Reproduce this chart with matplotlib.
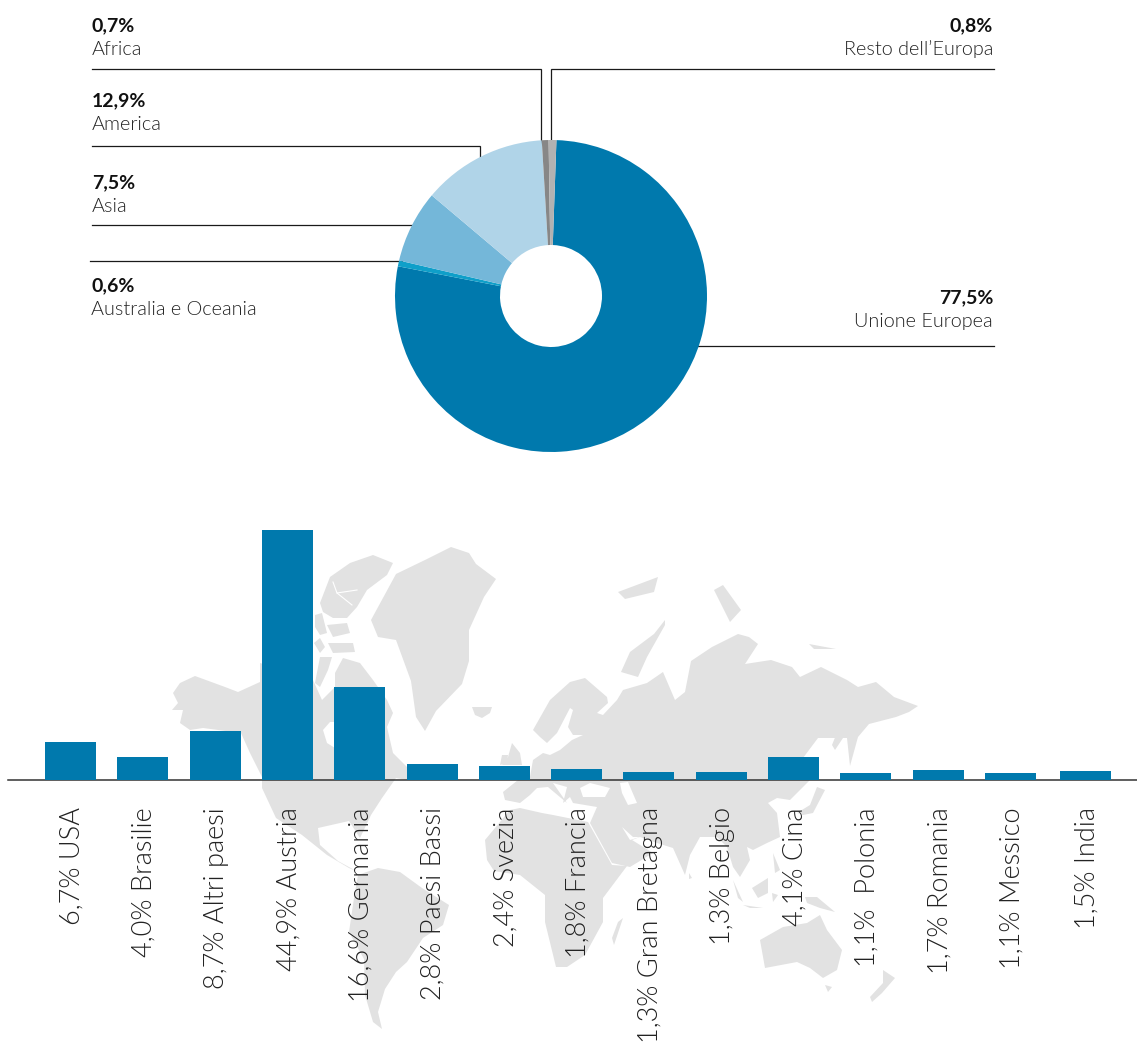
import numpy as np
import matplotlib
matplotlib.use("Agg")
import matplotlib.pyplot as plt
from matplotlib import font_manager as fm
from matplotlib.patches import Polygon
from matplotlib.transforms import ScaledTranslation

W, H = 1137, 1045

# pie data, clockwise from the top
pie_names = ["Unione Europea", "Australia e Oceania", "Asia", "America", "Africa", "Resto dell’Europa"]
pie_values = [77.5, 0.6, 7.5, 12.9, 0.7, 0.8]
pie_labels = ["77,5%", "0,6%", "7,5%", "12,9%", "0,7%", "0,8%"]
pie_colors = ["#0079AD", "#0F9FC9", "#74B7D9", "#B0D4E8", "#878787", "#B2B2B2"]

# bar data
countries = ["USA", "Brasilie", "Altri paesi", "Austria", "Germania", "Paesi Bassi", "Svezia", "Francia",
             "Gran Bretagna", "Belgio", "Cina", " Polonia", "Romania", "Messico", "India"]
shares = [6.7, 4.0, 8.7, 44.9, 16.6, 2.8, 2.4, 1.8, 1.3, 1.3, 4.1, 1.1, 1.7, 1.1, 1.5]
bar_labels = [f"{str(s).replace('.', ',')}% {c}" for s, c in zip(shares, countries)]

# Lato Light by file, weight="light" picks the hairline cut
light_files = [f.fname for f in fm.fontManager.ttflist if f.fname.endswith("Lato-Light.ttf")]
plt.rcParams["font.family"] = ["Lato", "DejaVu Sans"]


def light(size):
    if light_files:
        return fm.FontProperties(fname=light_files[0], size=size)
    return fm.FontProperties(family="Lato", size=size)


fig = plt.figure(figsize=(W / 100, H / 100), dpi=100)


def px_axes(left, top, right, bottom, **kw):
    return fig.add_axes([left / W, 1 - bottom / H, (right - left) / W, (bottom - top) / H], **kw)


# background layer in pixels: map and leader lines
bg = px_axes(0, 0, W, H)
bg.set_xlim(0, W)
bg.set_ylim(H, 0)
bg.axis("off")

# hand traced world map, image pixels
land = [
    # north america
    [(173,693),(180,683),(195,676),(225,687),(238,692),(260,682),(260,663),(313,680),(322,700),(335,687),(335,673),(343,658),(360,663),(373,680),(387,700),(393,713),(387,727),(393,753),(407,767),(407,780),(396,778),(382,798),(371,815),(360,838),(349,821),(318,828),(320,845),(338,861),(358,872),(349,868),(327,855),(302,835),(276,818),(262,788),(262,777),(250,753),(241,733),(203,728),(190,730),(180,723),(183,710),(172,710),(178,703)],
    # arctic islands
    [(320,603),(330,577),(350,563),(373,555),(393,563),(387,575),(367,590),(357,607),(347,618),(333,618),(323,612)],
    [(315,615),(322,613),(327,633),(320,635),(315,627)],
    [(328,643),(353,643),(355,652),(333,653)],
    [(320,638),(325,647),(320,653),(314,643)],
    [(327,625),(347,623),(350,633),(333,637)],
    [(320,657),(332,657),(328,670),(320,687),(315,683)],
    # greenland
    [(371,620),(396,574),(425,560),(451,547),(469,553),(476,564),(496,579),(484,597),(469,630),(469,661),(462,684),(436,711),(425,731),(416,717),(411,681),(396,640),(378,637)],
    # south america
    [(358,875),(378,868),(400,872),(422,888),(449,905),(443,925),(423,938),(407,962),(396,972),(385,989),(378,1012),(382,1029),(373,1022),(365,995),(364,959),(349,932),(354,898)],
    # iceland, britain, ireland
    [(472,707),(492,707),(490,713),(482,718),(475,715)],
    [(512,743),(520,753),(522,765),(502,765),(508,757)],
    [(502,755),(508,755),(507,763),(500,765)],
    # eurasia
    [(533,730),(550,700),(570,682),(585,678),(607,697),(608,703),(597,713),(603,715),(617,700),(623,690),(647,683),(663,672),(675,700),(685,692),(691,661),(712,647),(738,634),(749,637),(758,644),(745,664),(771,660),(792,667),(800,677),(821,667),(847,680),(858,687),(876,682),(894,697),(918,706),(909,712),(896,717),(869,724),(858,737),(850,766),(847,738),(818,738),(803,758),(810,780),(790,800),(777,798),(768,803),(777,813),(780,837),(767,843),(753,850),(747,847),(750,860),(740,877),(733,867),(727,847),(717,837),(700,837),(690,855),(685,875),(673,848),(657,843),(640,837),(632,840),(653,853),(630,867),(612,863),(590,823),(597,807),(573,803),(570,797),(563,803),(567,787),(553,783),(567,803),(548,787),(537,788),(530,795),(520,803),(505,800),(503,792),(518,780),(530,777),(533,760),(543,753),(550,755),(560,750),(572,740),(583,735),(573,735),(568,727),(573,710),(570,708),(557,733),(547,743),(540,737)],
    # africa, madagascar
    [(510,810),(520,808),(542,813),(553,815),(588,822),(612,865),(627,866),(603,898),(603,922),(585,955),(567,967),(556,967),(545,922),(545,895),(520,875),(494,871),(487,860),(485,840)],
    [(623,918),(614,945),(612,938),(618,922)],
    # arctic russia
    [(621,672),(630,652),(654,634),(665,620),(665,625),(647,657),(638,677)],
    [(618,592),(658,577),(654,592),(625,599)],
    [(714,590),(723,585),(741,610),(730,622)],
    [(809,644),(836,649),(814,649)],
    # japan, sakhalin and south east asia
    [(817,787),(825,790),(813,813),(803,815),(797,813),(810,805)],
    [(840,725),(845,735),(835,750),(832,745)],
    [(733,880),(743,902),(738,898)],
    [(743,905),(763,908),(750,908)],
    [(752,888),(768,878),(768,893),(758,898)],
    [(772,893),(778,895),(773,902)],
    [(773,853),(780,870),(775,873)],
    [(805,897),(817,897),(835,912),(820,908),(807,903)],
    [(689,873),(692,878),(689,879)],
    # australia, tasmania, new zealand
    [(760,940),(783,927),(807,923),(820,915),(827,930),(842,950),(837,970),(823,978),(810,968),(797,962),(765,968)],
    [(825,985),(832,987),(828,992)],
    [(883,970),(895,978),(882,993),(872,1002),(870,997),(883,983)],
]
water = [
    [(323,730),(330,722),(335,722),(335,748),(327,743)],  # hudson bay
    [(580,788),(590,783),(610,788),(605,797),(583,797)],  # black sea
    [(620,783),(628,782),(637,803),(628,805),(622,793)],  # caspian
    [(622,827),(633,837),(640,837),(630,840)],  # gulf
]
for pts in land:
    bg.add_patch(Polygon(pts, fc="#E2E2E2", ec="none"))
for pts in water:
    bg.add_patch(Polygon(pts, fc="white", ec="none"))
bg.plot([333, 337, 357], [582, 593, 590], color="white", lw=0.8)
bg.plot([337, 352], [593, 605], color="white", lw=0.8)

# bars
slots = np.arange(len(shares), dtype=float)
slots[-1] += 0.04  # India sits a little further out
step = 72.3
ax = px_axes(8, 530, W, 779.5)
ax.patch.set_alpha(0)
ax.bar(slots, shares, width=51 / step, color="#0079AD", zorder=3)
ax.set_xlim((8 - 70.5) / step, (W - 70.5) / step)
ax.set_ylim(0, 44.9)
ax.set_yticks([])
ax.set_xticks(slots)
ax.set_xticklabels(bar_labels, rotation=90, font_properties=light(19.5), color="#222222", va="top", ha="center")
ax.tick_params(axis="x", length=0, pad=20)
nudge = ScaledTranslation(1.5 / 100, 0, fig.dpi_scale_trans)
for lab in ax.get_xticklabels():
    lab.set_transform(lab.get_transform() + nudge)
for side in ["top", "left", "right"]:
    ax.spines[side].set_visible(False)
ax.spines["bottom"].set_color("#333333")
ax.spines["bottom"].set_linewidth(1.1)

# leader lines, drawn before the pie
lines = [
    [(92, 69), (541, 69), (541, 145)],
    [(993.5, 69), (551, 69), (551, 145)],
    [(92, 146), (479.5, 146), (479.5, 160)],
    [(92, 225), (415, 225)],
    [(90, 260.5), (402, 260.5)],
    [(694, 346), (993.5, 346)],
]
for ln in lines:
    xs, ys = zip(*ln)
    bg.plot(xs, ys, color="#1a1a1a", lw=0.9, solid_joinstyle="miter")

# pie
pax = px_axes(395, 140, 707, 452)
pax.patch.set_alpha(0)
pax.pie(pie_values, colors=pie_colors, startangle=88, counterclock=False, radius=1,
        wedgeprops=dict(width=1 - 51 / 156, linewidth=0))
pax.set_xlim(-1, 1)
pax.set_ylim(-1, 1)

# pie captions: index into the lists, x, baseline of value, baseline of name, side
captions = [(4, 92, 31, 55, "left"), (5, 993, 31, 55, "right"), (3, 92, 106, 130, "left"),
            (2, 92, 188, 212, "left"), (1, 91, 291, 315, "left"), (0, 993, 303, 327, "right")]
for i, x, y1, y2, side in captions:
    bg.text(x, y1, pie_labels[i], ha=side, va="baseline", fontsize=14, fontweight="bold", color="#111111")
    bg.text(x, y2, pie_names[i], ha=side, va="baseline", font_properties=light(14.3), color="#222222")

fig.savefig("out.png", dpi=100)
